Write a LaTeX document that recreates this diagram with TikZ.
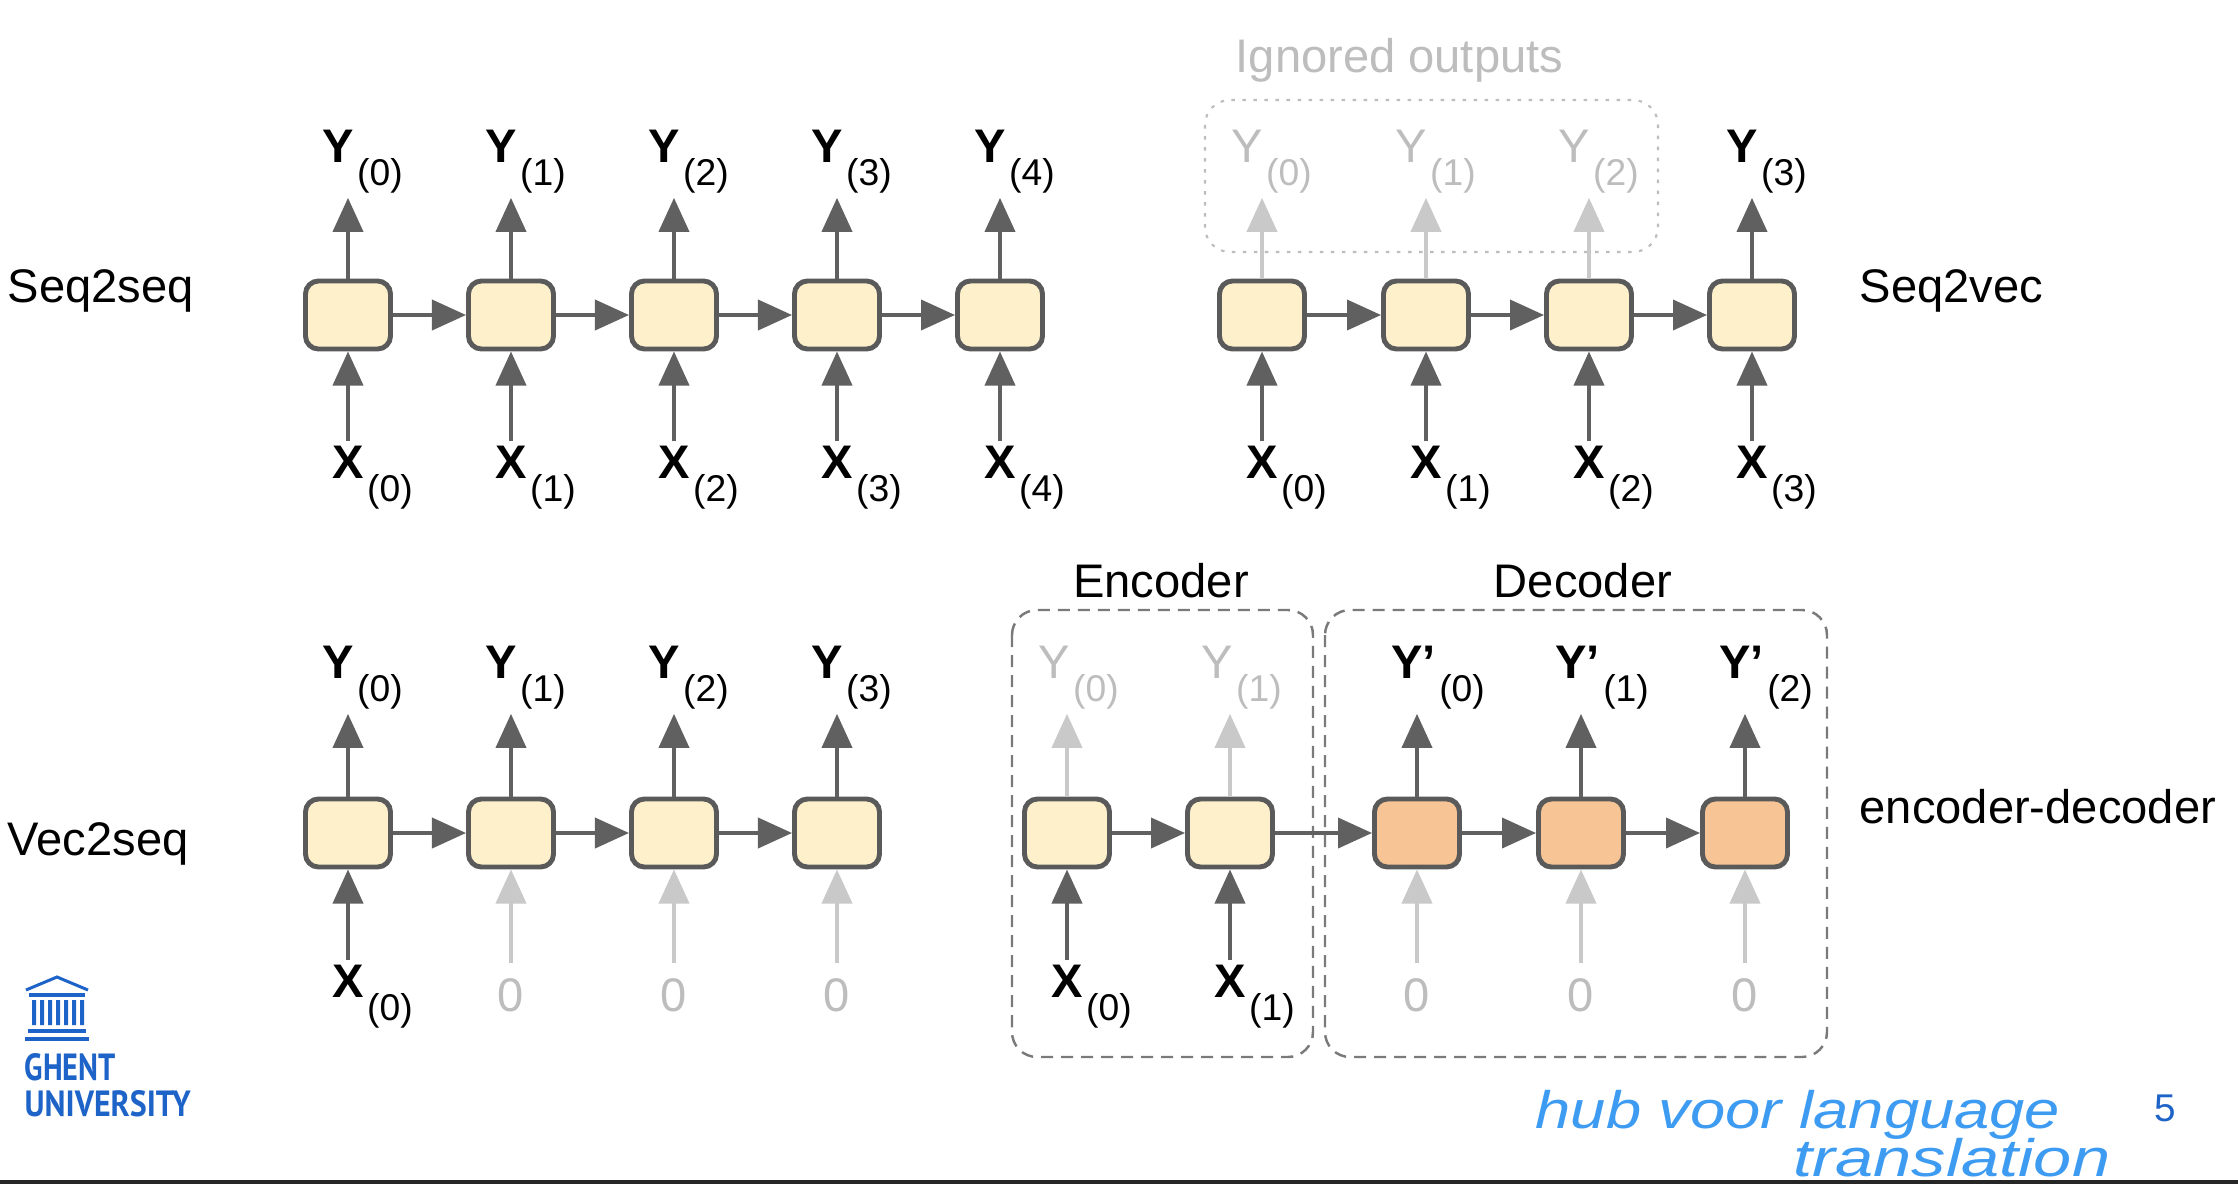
\documentclass[tikz,border=0pt]{standalone}
\usepackage{fontspec}
\setmainfont{Liberation Sans}
\newfontfamily\logofont{PT Sans}
\usetikzlibrary{arrows.meta}

\definecolor{cellfill}{HTML}{FEF0CB}
\definecolor{decfill}{HTML}{F7C595}
\definecolor{boxline}{HTML}{5A5A5A}
\definecolor{arrowgray}{HTML}{606060}
\definecolor{fadegray}{HTML}{C9C9C9}
\definecolor{fadetext}{HTML}{BDBDBD}
\definecolor{framegray}{HTML}{7A7A7A}
\definecolor{ugblue}{HTML}{1E64C8}
\definecolor{inkblue}{HTML}{3D9BF2}

\newcommand{\outlbl}[2]{\textbf{#1}\kern1pt\raisebox{-6.8pt}{\fontsize{10.6}{12}\selectfont(#2)}}
\newcommand{\fadelbl}[2]{#1\kern1pt\raisebox{-6.8pt}{\fontsize{10.6}{12}\selectfont(#2)}}

\begin{document}
\begin{tikzpicture}[x=0.01cm, y=-0.01cm,
        cell/.style={draw=boxline, line width=1.4pt, fill=cellfill, rounded corners=1.3mm,
                     minimum width=8.5mm, minimum height=6.8mm, inner sep=0pt},
        deccell/.style={cell, fill=decfill},
        arr/.style={-{Triangle[width=3mm,length=3.4mm]}, draw=arrowgray, line width=1.1pt},
        farr/.style={arr, draw=fadegray},
        lbl/.style={inner sep=1pt, anchor=base west, font=\fontsize{13.4}{16}\selectfont},
        flbl/.style={lbl, text=fadetext},
        zero/.style={inner sep=1pt, anchor=base, text=fadetext, text height=12.5pt,
                     font=\fontsize{13.4}{16}\selectfont},
        side/.style={inner sep=0pt, anchor=base west, font=\fontsize{13.4}{16}\selectfont},
        note/.style={inner sep=0pt, anchor=base, text=inkblue, font=\fontsize{15}{17}\selectfont\itshape},
        frame/.style={draw=framegray, line width=0.7pt, dash pattern=on 1.2mm off 0.8mm,
                      rounded corners=2.5mm}]
        \fill[white] (0,0) rectangle (2238,1184);
        \useasboundingbox (0,0) rectangle (2238,1184);

        % side titles
        \node[side] (t0) at (7,302) {Seq2seq};
        \node[side] (t1) at (1859,302) {Seq2vec};
        \node[side] (t2) at (7,855) {Vec2seq};
        \node[side] (t3) at (1859,823) {encoder-decoder};

        % frames
        \draw[draw=fadetext, line width=0.6pt, dash pattern=on 0.35mm off 0.75mm, rounded corners=2.5mm]
            (1205,100) rectangle (1658,252);
        \node[side, text=fadetext] (ign) at (1235,72) {Ignored outputs};
        \draw[frame] (1012,610) rectangle (1313,1057);
        \draw[frame] (1325,610) rectangle (1827,1057);
        \node[inner sep=0pt, anchor=base, font=\fontsize{13.4}{16}\selectfont] (enc) at (1161,597) {Encoder};
        \node[inner sep=0pt, anchor=base, font=\fontsize{13.4}{16}\selectfont] (dec) at (1583,597) {Decoder};

        % Seq2seq
        \node[cell] (a0) at (348,315) {};
        \node[cell] (a1) at (511,315) {};
        \node[cell] (a2) at (674,315) {};
        \node[cell] (a3) at (837,315) {};
        \node[cell] (a4) at (1000,315) {};
        \node[lbl] (ya0) at (318,162) {\outlbl{Y}{0}};
        \node[lbl] (ya1) at (481,162) {\outlbl{Y}{1}};
        \node[lbl] (ya2) at (644,162) {\outlbl{Y}{2}};
        \node[lbl] (ya3) at (807,162) {\outlbl{Y}{3}};
        \node[lbl] (ya4) at (970,162) {\outlbl{Y}{4}};
        \node[lbl] (xa0) at (328,478) {\outlbl{X}{0}};
        \node[lbl] (xa1) at (491,478) {\outlbl{X}{1}};
        \node[lbl] (xa2) at (654,478) {\outlbl{X}{2}};
        \node[lbl] (xa3) at (817,478) {\outlbl{X}{3}};
        \node[lbl] (xa4) at (980,478) {\outlbl{X}{4}};
        \draw[arr] (a0) -- (a1);
        \draw[arr] (a1) -- (a2);
        \draw[arr] (a2) -- (a3);
        \draw[arr] (a3) -- (a4);
        \draw[arr] (a0.north) -- (a0.north |- ya0.south);
        \draw[arr] (a1.north) -- (a1.north |- ya1.south);
        \draw[arr] (a2.north) -- (a2.north |- ya2.south);
        \draw[arr] (a3.north) -- (a3.north |- ya3.south);
        \draw[arr] (a4.north) -- (a4.north |- ya4.south);
        \draw[arr] (a0.south |- xa0.north) -- (a0.south);
        \draw[arr] (a1.south |- xa1.north) -- (a1.south);
        \draw[arr] (a2.south |- xa2.north) -- (a2.south);
        \draw[arr] (a3.south |- xa3.north) -- (a3.south);
        \draw[arr] (a4.south |- xa4.north) -- (a4.south);

        % Seq2vec
        \node[cell] (b0) at (1262,315) {};
        \node[cell] (b1) at (1426,315) {};
        \node[cell] (b2) at (1589,315) {};
        \node[cell] (b3) at (1752,315) {};
        \node[flbl] (yb0) at (1227,162) {\fadelbl{Y}{0}};
        \node[flbl] (yb1) at (1391,162) {\fadelbl{Y}{1}};
        \node[flbl] (yb2) at (1554,162) {\fadelbl{Y}{2}};
        \node[lbl] (yb3) at (1722,162) {\outlbl{Y}{3}};
        \node[lbl] (xb0) at (1242,478) {\outlbl{X}{0}};
        \node[lbl] (xb1) at (1406,478) {\outlbl{X}{1}};
        \node[lbl] (xb2) at (1569,478) {\outlbl{X}{2}};
        \node[lbl] (xb3) at (1732,478) {\outlbl{X}{3}};
        \draw[arr] (b0) -- (b1);
        \draw[arr] (b1) -- (b2);
        \draw[arr] (b2) -- (b3);
        \draw[farr] (b0.north) -- (b0.north |- yb0.south);
        \draw[farr] (b1.north) -- (b1.north |- yb1.south);
        \draw[farr] (b2.north) -- (b2.north |- yb2.south);
        \draw[arr] (b3.north) -- (b3.north |- yb3.south);
        \draw[arr] (b0.south |- xb0.north) -- (b0.south);
        \draw[arr] (b1.south |- xb1.north) -- (b1.south);
        \draw[arr] (b2.south |- xb2.north) -- (b2.south);
        \draw[arr] (b3.south |- xb3.north) -- (b3.south);

        % Vec2seq
        \node[cell] (c0) at (348,833) {};
        \node[cell] (c1) at (511,833) {};
        \node[cell] (c2) at (674,833) {};
        \node[cell] (c3) at (837,833) {};
        \node[lbl] (yc0) at (318,678) {\outlbl{Y}{0}};
        \node[lbl] (yc1) at (481,678) {\outlbl{Y}{1}};
        \node[lbl] (yc2) at (644,678) {\outlbl{Y}{2}};
        \node[lbl] (yc3) at (807,678) {\outlbl{Y}{3}};
        \node[lbl] (xc0) at (328,997) {\outlbl{X}{0}};
        \node[zero] (zc1) at (511,1011) {0};
        \node[zero] (zc2) at (674,1011) {0};
        \node[zero] (zc3) at (837,1011) {0};
        \draw[arr] (c0) -- (c1);
        \draw[arr] (c1) -- (c2);
        \draw[arr] (c2) -- (c3);
        \draw[arr] (c0.north) -- (c0.north |- yc0.south);
        \draw[arr] (c1.north) -- (c1.north |- yc1.south);
        \draw[arr] (c2.north) -- (c2.north |- yc2.south);
        \draw[arr] (c3.north) -- (c3.north |- yc3.south);
        \draw[arr] (c0.south |- xc0.north) -- (c0.south);
        \draw[farr] (zc1) -- (c1.south);
        \draw[farr] (zc2) -- (c2.south);
        \draw[farr] (zc3) -- (c3.south);

        % encoder-decoder
        \node[cell] (e0) at (1067,833) {};
        \node[cell] (e1) at (1230,833) {};
        \node[deccell] (d0) at (1417,833) {};
        \node[deccell] (d1) at (1581,833) {};
        \node[deccell] (d2) at (1745,833) {};
        \node[flbl] (ye0) at (1034,678) {\fadelbl{Y}{0}};
        \node[flbl] (ye1) at (1197,678) {\fadelbl{Y}{1}};
        \node[lbl] (yd0) at (1387,678) {\outlbl{Y'}{0}};
        \node[lbl] (yd1) at (1551,678) {\outlbl{Y'}{1}};
        \node[lbl] (yd2) at (1715,678) {\outlbl{Y'}{2}};
        \node[lbl] (xe0) at (1047,997) {\outlbl{X}{0}};
        \node[lbl] (xe1) at (1210,997) {\outlbl{X}{1}};
        \node[zero] (zd0) at (1417,1011) {0};
        \node[zero] (zd1) at (1581,1011) {0};
        \node[zero] (zd2) at (1745,1011) {0};
        \draw[arr] (e0) -- (e1);
        \draw[arr] (e1) -- (d0);
        \draw[arr] (d0) -- (d1);
        \draw[arr] (d1) -- (d2);
        \draw[farr] (e0.north) -- (e0.north |- ye0.south);
        \draw[farr] (e1.north) -- (e1.north |- ye1.south);
        \draw[arr] (d0.north) -- (d0.north |- yd0.south);
        \draw[arr] (d1.north) -- (d1.north |- yd1.south);
        \draw[arr] (d2.north) -- (d2.north |- yd2.south);
        \draw[arr] (e0.south |- xe0.north) -- (e0.south);
        \draw[arr] (e1.south |- xe1.north) -- (e1.south);
        \draw[farr] (zd0) -- (d0.south);
        \draw[farr] (zd1) -- (d1.south);
        \draw[farr] (zd2) -- (d2.south);

        % logo
        \draw[ugblue, line width=0.3mm] (26,990) -- (57,977) -- (88,990);
        \fill[ugblue] (29,993) rectangle (85,997);
        \fill[ugblue] (32,1000) rectangle (36,1025) (40,1000) rectangle (44,1025)
            (48,1000) rectangle (52,1025) (56,1000) rectangle (60,1025)
            (64,1000) rectangle (68,1025) (72,1000) rectangle (76,1025)
            (80,1000) rectangle (84,1025);
        \fill[ugblue] (28,1029) rectangle (86,1033);
        \fill[ugblue] (25,1037) rectangle (89,1041);
        \node[inner sep=0pt, anchor=south west, text=ugblue, font=\logofont\bfseries] (lg0) at (24,1082)
            {\resizebox{0.91cm}{0.27cm}{GHENT}};
        \node[inner sep=0pt, anchor=south west, text=ugblue, font=\logofont\bfseries] (lg1) at (24,1118)
            {\resizebox{1.66cm}{0.26cm}{UNIVERSITY}};

        % note and page number
        \node[note] (n0) at (1798,1128) {\scalebox{1.2}[1]{hub voor language}};
        \node[note] (n1) at (1952,1176) {\scalebox{1.3}[1]{translation}};
        \node[inner sep=0pt, text=ugblue, font=\fontsize{11}{12}\selectfont] (pg) at (2165,1108) {5};
        \fill[black!85] (0,1180) rectangle (2238,1184);
        \end{tikzpicture}
\end{document}
